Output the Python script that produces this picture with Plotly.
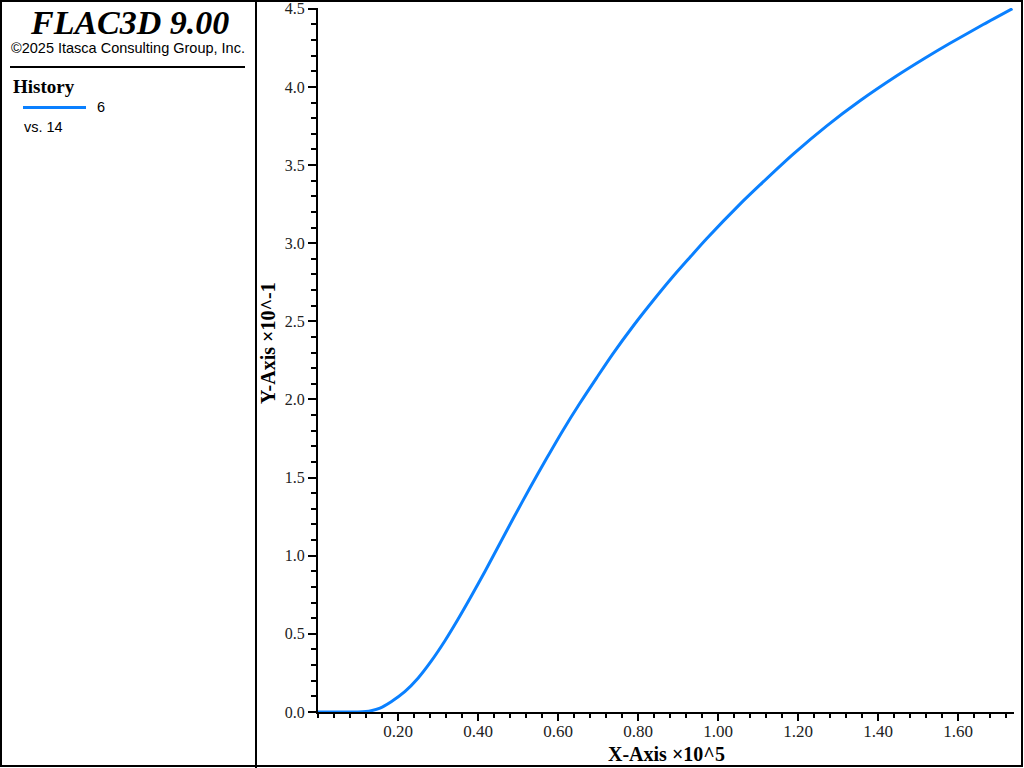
import plotly.graph_objects as go

# Data (x in units of 10^5, y in units of 10^-1)
x_vals = [0.00, 0.06, 0.10, 0.12, 0.133, 0.155, 0.183, 0.217, 0.25, 0.283, 0.317, 0.35,
          0.383, 0.417, 0.458, 0.488, 0.53, 0.572, 0.613, 0.655, 0.697, 0.738, 0.788,
          0.838, 0.888, 0.93, 0.972, 1.055, 1.105, 1.188, 1.272, 1.355, 1.447, 1.52,
          1.58, 1.663, 1.736]
y_vals = [0.0, 0.0, 0.0, 0.003, 0.008, 0.025, 0.066, 0.13, 0.216, 0.325, 0.454, 0.593,
          0.74, 0.898, 1.094, 1.238, 1.435, 1.625, 1.805, 1.977, 2.14, 2.295, 2.47,
          2.633, 2.788, 2.91, 3.03, 3.25, 3.373, 3.570, 3.751, 3.911, 4.071, 4.188,
          4.279, 4.399, 4.501]
x_ticks = [0.2, 0.4, 0.6, 0.8, 1.0, 1.2, 1.4, 1.6]
y_ticks = [0.0, 0.5, 1.0, 1.5, 2.0, 2.5, 3.0, 3.5, 4.0, 4.5]

W, H = 1024, 768
L, R, T, B = 318, 10, 8, 56
PW, PH = W - L - R, H - T - B


def px(x):
    return (x - L) / PW


def py(y):
    return (H - B - y) / PH


SERIF = "Liberation Serif, Times New Roman, serif"
SANS = "Liberation Sans, Arial, sans-serif"
BLUE = "#0a80ff"

fig = go.Figure()
fig.add_trace(go.Scatter(x=x_vals, y=y_vals, mode="lines",
                         line=dict(color=BLUE, width=3, shape="spline", smoothing=0.8),
                         showlegend=False, hoverinfo="skip", cliponaxis=False))

axis_common = dict(showline=True, linecolor="black", linewidth=2, showgrid=False,
                   zeroline=False, ticks="outside", tickcolor="black", tickwidth=2,
                   automargin=False)

fig.update_xaxes(range=[0, 1.74], tickvals=x_ticks, tickformat=".2f", ticklen=7,
                 ticklabelstandoff=-4,
                 tickfont=dict(family=SERIF, size=17, color="#222"),
                 minor=dict(dtick=0.04, tick0=0, ticks="outside", ticklen=4,
                            tickwidth=2, tickcolor="black", showgrid=False),
                 **axis_common)
fig.update_yaxes(range=[0, 4.505], tickvals=y_ticks, tickformat=".1f", ticklen=8,
                 tickfont=dict(family=SERIF, size=16, color="#222"),
                 minor=dict(dtick=0.1, tick0=0, ticks="outside", ticklen=5,
                            tickwidth=2, tickcolor="black", showgrid=False),
                 **axis_common)

shapes = [
    # outer frame
    dict(type="rect", xref="paper", yref="paper", x0=px(1), x1=px(1022), y0=py(1), y1=py(766),
         line=dict(color="black", width=2)),
    # divider
    dict(type="line", xref="paper", yref="paper", x0=px(256), x1=px(256), y0=py(0), y1=py(768),
         line=dict(color="black", width=2)),
    # header rule
    dict(type="line", xref="paper", yref="paper", x0=px(10), x1=px(245), y0=py(67), y1=py(67),
         line=dict(color="black", width=2)),
    # legend swatch
    dict(type="line", xref="paper", yref="paper", x0=px(23), x1=px(86), y0=py(107.5), y1=py(107.5),
         line=dict(color=BLUE, width=3)),
]

annotations = [
    dict(text="<b><i>FLAC3D 9.00</i></b>", x=px(129), y=py(22), xanchor="center", yanchor="middle",
         font=dict(family=SERIF, size=34, color="black")),
    dict(text="©2025 Itasca Consulting Group, Inc.", x=px(128), y=py(48), xanchor="center",
         yanchor="middle", font=dict(family=SANS, size=14.5, color="black")),
    dict(text="<b>History</b>", x=px(11), y=py(86), xanchor="left", yanchor="middle",
         font=dict(family=SERIF, size=19, color="black")),
    dict(text="6", x=px(95), y=py(107), xanchor="left", yanchor="middle",
         font=dict(family=SANS, size=14.5, color="black")),
    dict(text="vs. 14", x=px(22), y=py(127), xanchor="left", yanchor="middle",
         font=dict(family=SANS, size=14.5, color="black")),
    dict(text="<b>X-Axis ×10^5</b>", x=px(666), y=py(754), xanchor="center", yanchor="middle",
         font=dict(family=SERIF, size=20, color="black")),
    dict(text="<b>Y-Axis ×10^-1</b>", x=px(268), y=py(343), xanchor="center", yanchor="middle",
         textangle=-90, font=dict(family=SERIF, size=20, color="black")),
]
for a in annotations:
    a.update(xref="paper", yref="paper", showarrow=False)

fig.update_layout(width=W, height=H, margin=dict(l=L, r=R, t=T, b=B, autoexpand=False),
                  paper_bgcolor="white", plot_bgcolor="white",
                  shapes=shapes, annotations=annotations, showlegend=False)

post = ("document.body.style.margin='0';document.body.style.padding='0';"
        "document.body.style.overflow='hidden';"
        "var d=document.getElementById('{plot_id}');"
        "var p=d.parentElement;p.style.position='absolute';p.style.left='0px';p.style.top='0px';"
        "p.style.margin='0';p.style.padding='0';"
        "d.style.position='absolute';d.style.left='0px';d.style.top='0px';d.style.margin='0';")
fig.write_html("out.html", config={"displayModeBar": False}, post_script=post)
